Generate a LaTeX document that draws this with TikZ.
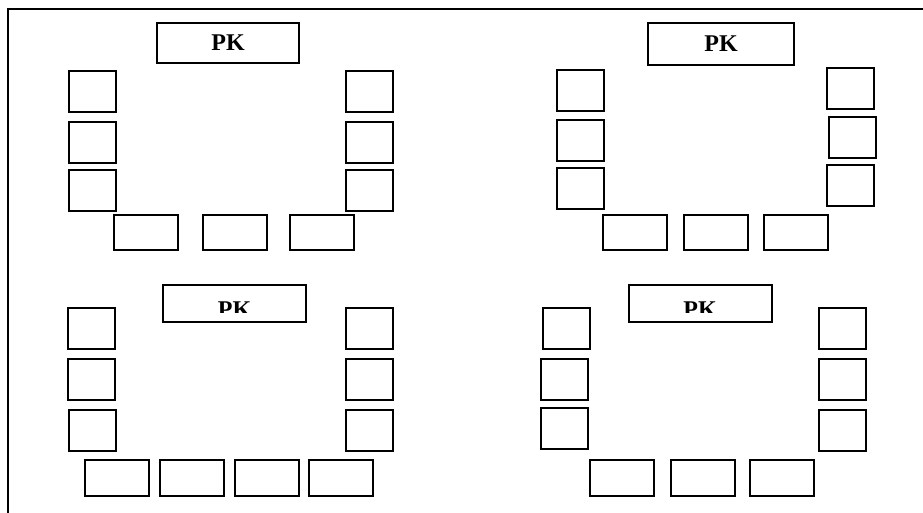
\documentclass[tikz,border=0pt]{standalone}
\usepackage{fontspec}
\setmainfont{Liberation Serif}
\usepackage{tikz}
\newcommand{\widthdesk}{47pt}
\newcommand{\heightdesk}{41pt}
\newcommand{\widthbench}{64pt}
\newcommand{\heightbench}{35pt}
\tikzset{
    common/.style={draw, rectangle, line width=2pt, inner sep=0pt},
    desk/.style={common, minimum width=\widthdesk, minimum height=\heightdesk},
    bench/.style={common, minimum width=\widthbench, minimum height=\heightbench},
    board/.style={common, minimum width=143pt, minimum height=40pt},
    boardtext/.style={inner sep=0pt, font=\fontsize{24}{28}\selectfont\bfseries}
}
\begin{document}
\begin{tikzpicture}[x=1pt, y=-1pt]
        \useasboundingbox (0,0) rectangle (923,513);
        \draw[line width=2pt] (8,513) -- (8,9.5) -- (923,9.5);

        \node[board, boardtext, minimum width=142pt] (PK1) at (228,43) {PK};
        \node[desk] (L1a) at (92.5,92) {};
        \node[desk] (L1b) at (92.5,142.5) {};
        \node[desk] (L1c) at (92.5,190.5) {};
        \node[desk] (R1a) at (369.5,92) {};
        \node[desk] (R1b) at (369.5,142.5) {};
        \node[desk] (R1c) at (369.5,190.5) {};
        \node[bench] (B1a) at (146,232.5) {};
        \node[bench] (B1b) at (235,232.5) {};
        \node[bench] (B1c) at (322,232.5) {};

        \node[board, boardtext, minimum width=146pt, minimum height=42pt] (PK2) at (721,44) {PK};
        \node[desk] (L2a) at (580,90.5) {};
        \node[desk] (L2b) at (580,140.5) {};
        \node[desk] (L2c) at (580,188.5) {};
        \node[desk] (R2a) at (850,88.5) {};
        \node[desk] (R2b) at (852,137.5) {};
        \node[desk] (R2c) at (850,185.5) {};
        \node[bench] (B2a) at (635,232.5) {};
        \node[bench] (B2b) at (716,232.5) {};
        \node[bench] (B2c) at (796,232.5) {};

        \node[board, minimum height=37pt] (PK3) at (234.5,303.5) {};
        \begin{scope}
            \clip (PK3.west |- 0,290) rectangle (PK3.east |- 0,312);
            \node[boardtext] (PK3-text) at (234.5,310) {PK};
        \end{scope}
        \node[desk] (L3a) at (91,328) {};
        \node[desk] (L3b) at (91,379) {};
        \node[desk] (L3c) at (92.5,430) {};
        \node[desk] (R3a) at (369.5,328) {};
        \node[desk] (R3b) at (369.5,379) {};
        \node[desk] (R3c) at (369.5,430) {};
        \node[bench, minimum height=36pt] (B3a) at (117,478) {};
        \node[bench, minimum height=36pt] (B3b) at (192,478) {};
        \node[bench, minimum height=36pt] (B3c) at (267,478) {};
        \node[bench, minimum height=36pt] (B3d) at (341,478) {};

        \node[board, minimum height=37pt] (PK4) at (700.5,303.5) {};
        \begin{scope}
            \clip (PK4.west |- 0,290) rectangle (PK4.east |- 0,312);
            \node[boardtext] (PK4-text) at (700,310) {PK};
        \end{scope}
        \node[desk] (L4a) at (566.5,328) {};
        \node[desk] (L4b) at (564.5,379.5) {};
        \node[desk] (L4c) at (564.5,428) {};
        \node[desk] (R4a) at (842.5,328) {};
        \node[desk] (R4b) at (842.5,379) {};
        \node[desk] (R4c) at (842.5,430) {};
        \node[bench, minimum height=36pt] (B4a) at (622,478) {};
        \node[bench, minimum height=36pt] (B4b) at (702.5,478) {};
        \node[bench, minimum height=36pt] (B4c) at (782,478) {};
\end{tikzpicture}
\end{document}
